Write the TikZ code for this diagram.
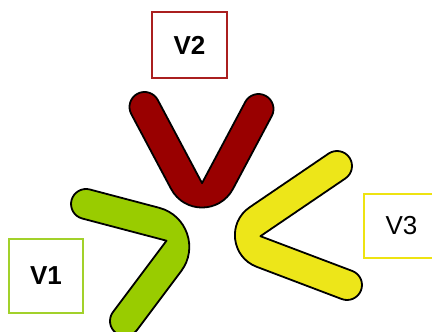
\documentclass[tikz,border=0pt]{standalone}
\usepackage{fontspec}
\setmainfont{Liberation Sans}
\definecolor{vred}{HTML}{990000}
\definecolor{vgreen}{HTML}{99CC00}
\definecolor{vyellow}{HTML}{EDE619}
\definecolor{vredline}{HTML}{AA1F1F}
\definecolor{vgreenline}{HTML}{A2D12A}
\definecolor{vyellowline}{HTML}{EEE311}
\tikzset{
  vbox/.style={draw, line width=2pt, inner sep=0pt, font=\fontsize{26}{26}\selectfont},
  vshape/.style={draw=black, line width=1.8pt, line join=round},
}
\begin{document}
\begin{tikzpicture}[x=1pt,y=-1pt]
\useasboundingbox (0,0) rectangle (432,332);
\clip (0,0) rectangle (432,332);

\draw[vshape, fill=vred] (202.03,183.15) -- (157.75,99.95) arc[start angle=-28, end angle=-208, radius=15] -- (171.0,188.75) .. controls (184.35,213.8) and (219.7,213.8) .. (233.05,188.75) -- (271.75,116.05) arc[start angle=28, end angle=-152, radius=15] -- cycle;
\draw[vshape, fill=vyellow] (260.4,236.2) -- (345.43,178.41) arc[start angle=55.8, end angle=-124.2, radius=15] -- (249.66,207.27) .. controls (227.1,222.6) and (231.15,257.15) .. (256.68,266.81) -- (341.69,299.03) arc[start angle=110.7, end angle=-69.3, radius=15] -- cycle;
\draw[vshape, fill=vgreen] (166.5,240.7) -- (82.2,218.5) arc[start angle=104.8, end angle=284.8, radius=15] -- (159.2,207.8) .. controls (186.9,215.1) and (198.4,248.2) .. (181.2,271.1) -- (137,330) arc[start angle=36.87, end angle=216.87, radius=15] -- cycle;

\node[vbox, draw=vgreenline, minimum width=74pt, minimum height=74pt] (v1) at (46,276) {\bfseries V1};
\node[vbox, draw=vredline, minimum width=75pt, minimum height=66pt] (v2) at (189.5,45.3) {\bfseries V2};
\node[vbox, draw=vyellowline, minimum width=75pt, minimum height=64pt] (v3) at (401.5,226) {V3};
\end{tikzpicture}
\end{document}
